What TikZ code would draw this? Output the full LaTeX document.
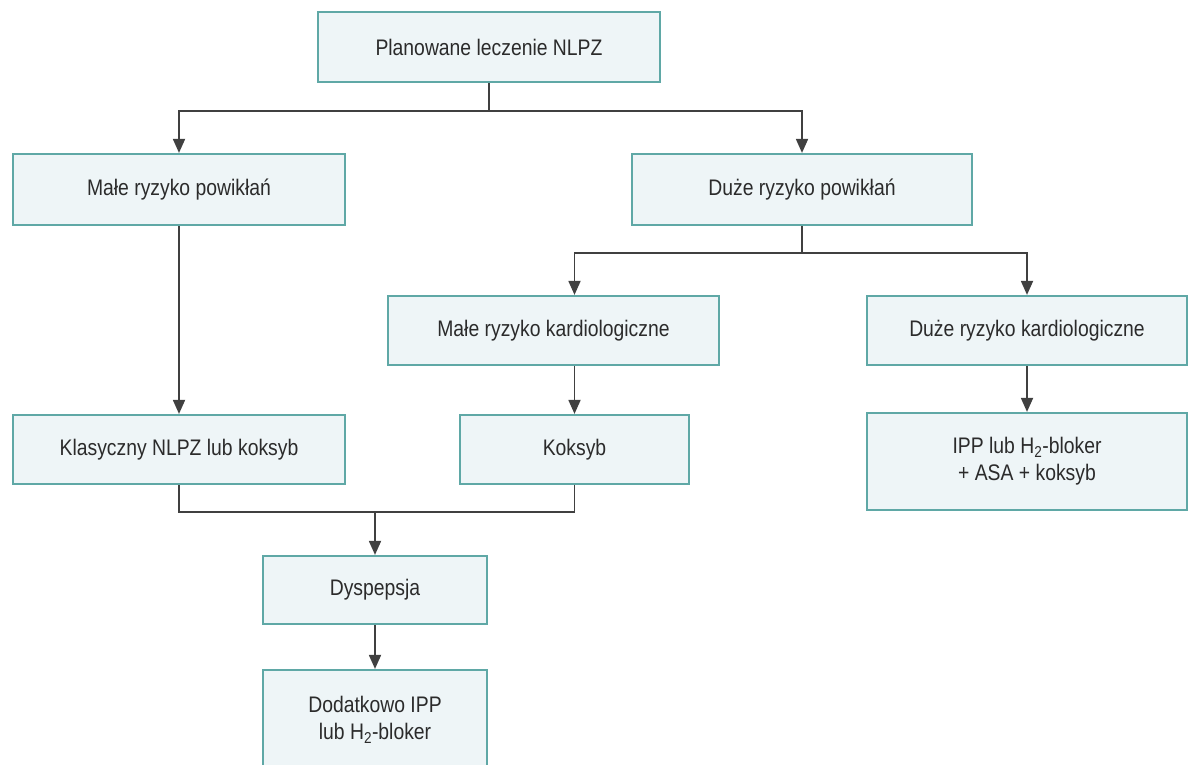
\documentclass[tikz,border=0pt]{standalone}
\usepackage{fontspec}
\setmainfont{Liberation Sans}[FakeStretch=0.86]
\usepackage{xcolor}
\usetikzlibrary{arrows.meta, calc, positioning}

\definecolor{boxfill}{HTML}{EEF5F7}
\definecolor{boxline}{HTML}{5FA8A6}
\definecolor{linegray}{HTML}{404040}
\definecolor{textgray}{HTML}{2B2B2B}

\tikzset{
    box/.style={draw=boxline, fill=boxfill, line width=2.2pt, align=center,
        inner sep=0pt, text=textgray, font=\fontsize{22.5}{27}\selectfont},
    arrow/.style={draw=linegray, line width=1.8pt, -{Triangle[length=14pt, width=12pt]}},
    link/.style={draw=linegray, line width=1.8pt}
}

\begin{document}
\begin{tikzpicture}[x=1pt, y=-1pt]
    \useasboundingbox (0,0) rectangle (1190,764);

    \node[box, minimum width=342pt, minimum height=70pt] (plan) at (489,47) {Planowane leczenie NLPZ};

    \node[box, minimum width=332pt, minimum height=71pt] (malep) at (179,189.5) {Małe ryzyko powikłań};
    \node[box, minimum width=340pt, minimum height=71pt] (duzep) at (802,189.5) {Duże ryzyko powikłań};

    \node[box, minimum width=331pt, minimum height=69pt] (malek) at (553.5,330.5) {Małe ryzyko kardiologiczne};
    \node[box, minimum width=320pt, minimum height=69pt] (duzek) at (1027,330.5) {Duże ryzyko kardiologiczne};

    \node[box, minimum width=332pt, minimum height=69pt] (klas) at (179,449.5) {Klasyczny NLPZ lub koksyb};
    \node[box, minimum width=229pt, minimum height=69pt] (koks) at (574.5,449.5) {Koksyb};
    \node[box, minimum width=320pt, minimum height=97pt] (ippasa) at (1027,461.5) {IPP lub H\textsubscript{2}-bloker\\+ ASA + koksyb};

    \node[box, minimum width=224pt, minimum height=68pt] (dysp) at (375,590) {Dyspepsja};
    \node[box, minimum width=224pt, minimum height=100pt] (dodat) at (375,720) {Dodatkowo IPP\\lub H\textsubscript{2}-bloker};

    % polaczenia
    \draw[arrow] (plan.south) -- ++(0,28) -| (malep.north);
    \draw[arrow] (plan.south) -- ++(0,28) -| (duzep.north);
    \draw[arrow] (malep.south) -- (klas.north);

    \draw[arrow] (duzep.south) -- ++(0,27) -| (malek.north -| koks.north);
    \draw[arrow] (duzep.south) -- ++(0,27) -| (duzek.north);
    \draw[arrow] (malek.south -| koks.north) -- (koks.north);
    \draw[arrow] (duzek.south) -- (ippasa.north);

    \coordinate (merge) at (375,512);
    \draw[link] (klas.south) |- (merge) -| (koks.south);
    \draw[arrow] (merge) -- (dysp.north);
    \draw[arrow] (dysp.south) -- (dodat.north);
\end{tikzpicture}
\end{document}
